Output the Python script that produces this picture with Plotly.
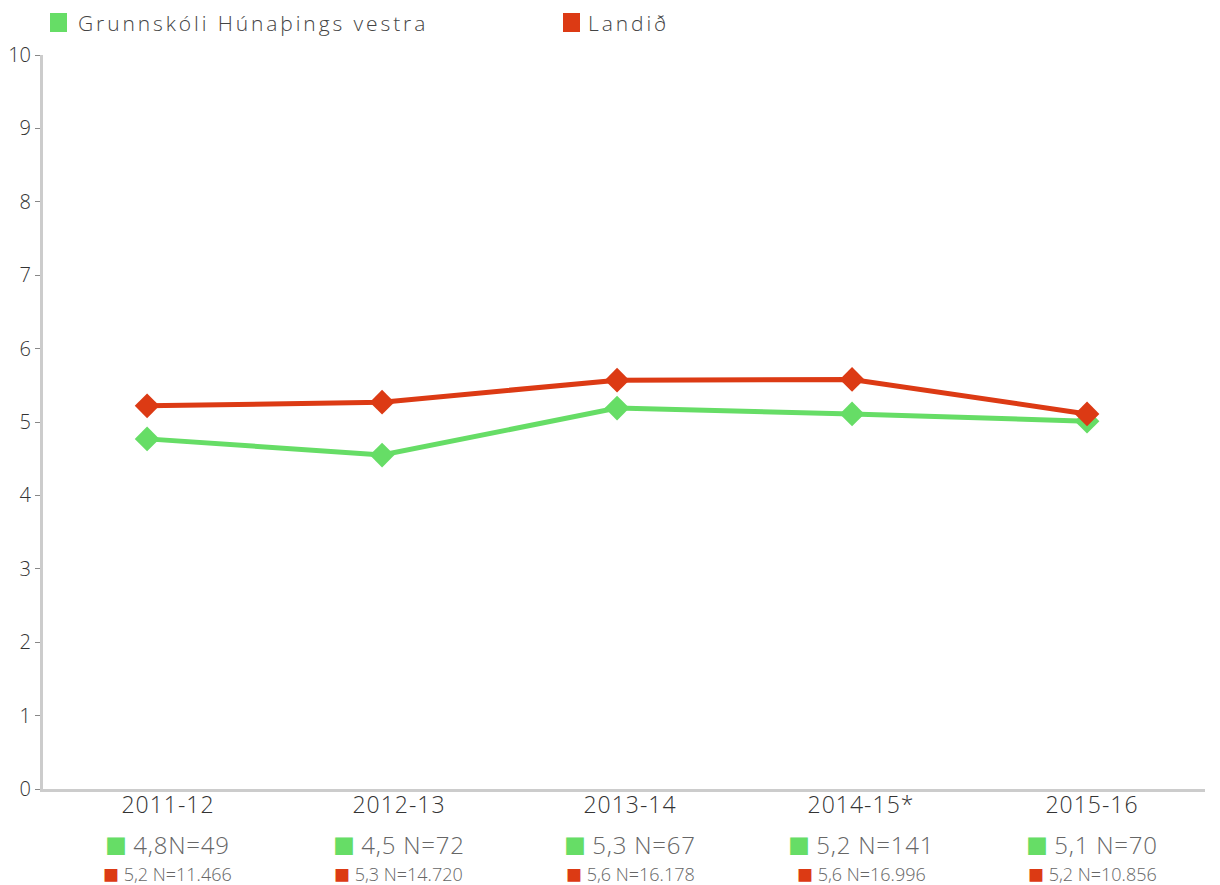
import plotly.graph_objects as go

categories = ["2011-12", "2012-13", "2013-14", "2014-15*", "2015-16"]
school_name = "Grunnskóli Húnaþings vestra"
country_name = "Landið"
school_values = [4.77, 4.55, 5.19, 5.11, 5.01]
country_values = [5.22, 5.27, 5.57, 5.58, 5.11]
school_labels = ["4,8N=49", "4,5 N=72", "5,3 N=67", "5,2 N=141", "5,1 N=70"]
country_labels = ["5,2 N=11.466", "5,3 N=14.720", "5,6 N=16.178", "5,6 N=16.996", "5,2 N=10.856"]
y_ticks = [0, 1, 2, 3, 4, 5, 6, 7, 8, 9, 10]

GREEN = "#66DD66"
RED = "#DC3A14"
FONT = "'Open Sans', 'Noto Sans', sans-serif"

# page body has an 8px margin: size the figure so it fits the window
OFF = 8
W, H = 1220 - OFF, 885 - OFF
L, R, T, B = 43 - OFF, 15, 55 - OFF, 96
pw, ph = W - L - R, H - T - B


def px_x(px):
    return (px - OFF - L) / pw


def px_y(py):
    return 1 + (T - (py - OFF)) / ph


xs = list(range(len(categories)))

fig = go.Figure()
fig.add_trace(go.Scatter(
    x=xs, y=school_values, mode="lines+markers", name=school_name,
    line=dict(color=GREEN, width=5),
    marker=dict(symbol="diamond", size=19, color=GREEN),
))
fig.add_trace(go.Scatter(
    x=xs, y=country_values, mode="lines+markers", name=country_name,
    line=dict(color=RED, width=5),
    marker=dict(symbol="diamond", size=19, color=RED),
))
# invisible trace to carry the category label axis (labels sit on a slightly different scale)
fig.add_trace(go.Scatter(x=xs, y=[None] * len(xs), xaxis="x2", showlegend=False,
                         hoverinfo="skip", mode="markers"))


def sq(color, size):
    return (f"<span style='color:{color};font-family:Noto Sans CJK JP;"
            f"font-size:{size}px'>■</span>")


def spaced(text, px):
    return f"<span style='letter-spacing:{px}px'>{text}</span>"


annotations = []
for i in xs:
    annotations.append(dict(
        x=i, y=0, xref="x2", yref="paper", yshift=-55, yanchor="middle",
        text=f"{sq(GREEN, 22)} {spaced(school_labels[i], 0.8)}",
        showarrow=False, font=dict(family=FONT, size=24, color="#666666", weight=300),
    ))
    annotations.append(dict(
        x=i, y=0, xref="x2", yref="paper", yshift=-85, yanchor="middle",
        text=f"{sq(RED, 16)} {country_labels[i]}",
        showarrow=False, font=dict(family=FONT, size=18, color="#666666", weight=300),
    ))

# legend-like entries at the top: square swatch + label
shapes = []
for sx, tx, label, color in [(50, 76, school_name, GREEN), (563, 586, country_name, RED)]:
    shapes.append(dict(
        type="rect", xref="paper", yref="paper",
        x0=px_x(sx), x1=px_x(sx + 17), y0=px_y(32), y1=px_y(13),
        fillcolor=color, line=dict(width=0), layer="above",
    ))
    annotations.append(dict(
        x=px_x(tx), y=px_y(23), xref="paper", yref="paper",
        xanchor="left", yanchor="middle", showarrow=False,
        text=spaced(label, 2.9),
        font=dict(family=FONT, size=21, color="#444444", weight=300),
    ))

fig.update_layout(
    width=W, height=H,
    margin=dict(l=L, r=R, t=T, b=B),
    paper_bgcolor="white", plot_bgcolor="white",
    showlegend=False,
    font=dict(family=FONT, color="#333333"),
    annotations=annotations,
    shapes=shapes,
    xaxis=dict(
        range=[-0.443, 4.502], tickmode="array", tickvals=xs, showticklabels=False,
        automargin=False, showgrid=False, zeroline=False, showline=True,
        linecolor="#CCCCCC", linewidth=3, ticks="",
    ),
    xaxis2=dict(
        range=[-0.541, 4.489], overlaying="x", side="bottom", anchor="y",
        tickmode="array", tickvals=xs, ticktext=[spaced(c, 1) for c in categories],
        automargin=False, showgrid=False, zeroline=False, showline=False, ticks="",
        tickfont=dict(family=FONT, size=23, color="#333333", weight=300),
    ),
    yaxis=dict(
        range=[0, 10], tickmode="array", tickvals=y_ticks, automargin=False,
        showgrid=False, zeroline=False, showline=True, linecolor="#CCCCCC", linewidth=3,
        ticks="outside", ticklen=5, tickcolor="#888888", tickwidth=1,
        tickfont=dict(family=FONT, size=20, color="#333333", weight=300),
    ),
)

fig.write_html("out.html")
